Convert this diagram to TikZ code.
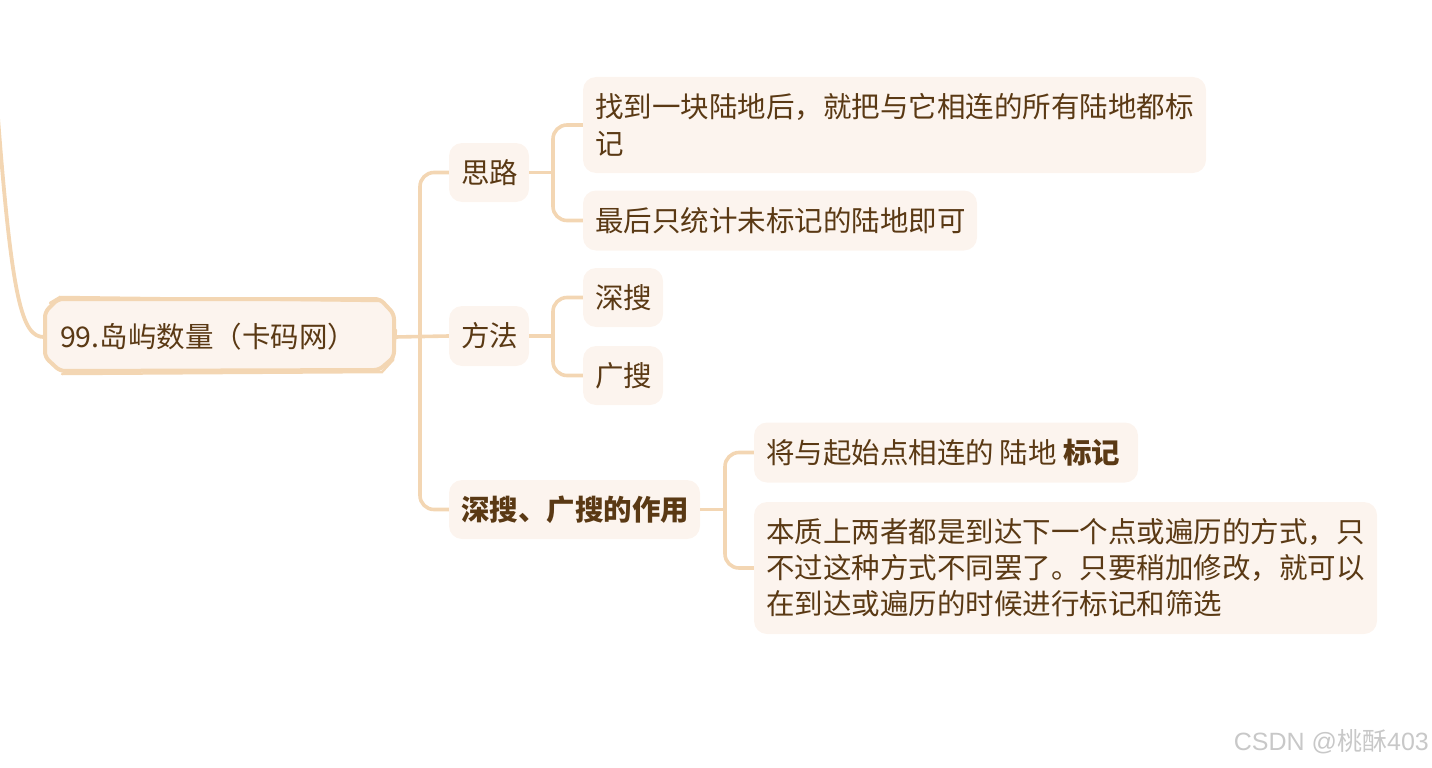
\documentclass[tikz,border=0pt]{standalone}
\usepackage{fontspec}
\setmainfont{Noto Sans CJK SC}
\newfontfamily\wmlatin{Liberation Sans}
\definecolor{linec}{HTML}{F3D6B3}
\definecolor{fillc}{HTML}{FCF4EE}
\definecolor{textc}{HTML}{5A3914}
\definecolor{wmc}{HTML}{C8C8C8}
\begin{document}
\begin{tikzpicture}[x=1pt,y=-1pt,
  conn/.style={draw=linec,line width=3.6pt,rounded corners=14pt},
  leaf/.style={fill=fillc,rounded corners=13pt,inner xsep=12pt,inner ysep=0pt,
     text=textc,align=left,font=\fontsize{28.5}{36}\selectfont},
  rootnode/.style={inner xsep=16pt,inner ysep=0pt,text=textc,align=left,
     font=\fontsize{28.5}{36}\selectfont,minimum width=351pt,minimum height=74pt,text width=319pt},
  handline/.style={draw=linec,line width=4pt,line join=round,rounded corners=5pt}
]
\useasboundingbox (0,0) rectangle (1432,768);
% root hand-drawn frame
\fill[fillc] (58,299) -- (380,299) -- (394,314) -- (394,357) -- (379,371) -- (60,371) -- (45,357) -- (45,312) -- cycle;
\draw[handline] (58,299) -- (380,299) -- (394,314) -- (394,357) -- (379,370) -- (60,371) -- (45,357) -- (45,312) -- cycle;
\draw[draw=linec,line width=2.5pt,line cap=round] (50,303) -- (60,297) -- (381,301);
\draw[draw=linec,line width=2.5pt,line cap=round] (396,330) -- (393,360) -- (382,372) -- (62,374);
\node[rootnode] (root) at (219.5,337) {99.岛屿数量（卡码网）};
\coordinate (top) at (-2,118);
\draw[draw=linec,line width=3.8pt] (top) .. controls (12,300) and (22,337) .. (root.west);
% level 1
\node[leaf,text width=56pt,minimum height=59pt] (sl) at (489,172.5) {思路};
\node[leaf,text width=56pt,minimum height=60pt] (fa) at (489,336) {方法};
\node[leaf,text width=227pt,minimum height=59pt,font=\fontsize{28.5}{36}\selectfont\bfseries] (zy) at (574.5,509.5) {深搜、广搜的作用};
\coordinate (j0) at (420,336);
\draw[conn] (root.east) -- (fa.west);
\draw[conn] (sl.west) -| (j0) |- (zy.west);
% level 2
\node[leaf,text width=599pt,minimum height=96pt,font=\fontsize{28.5}{37}\selectfont] (b1) at (894.5,125) {找到一块陆地后，就把与它相连的所有陆地都标\\记};
\node[leaf,text width=370pt,minimum height=60pt] (b2) at (780,220.5) {最后只统计未标记的陆地即可};
\node[leaf,text width=56pt,minimum height=59pt] (shen) at (623,297.5) {深搜};
\node[leaf,text width=56pt,minimum height=59pt] (guang) at (623,375.5) {广搜};
\node[leaf,text width=360pt,minimum height=60pt] (c1) at (946,452.5) {将与起始点相连的\hspace{6pt}陆地\hspace{6pt}\textbf{标记}};
\node[leaf,text width=599pt,minimum height=132pt] (c2) at (1065.5,568) {本质上两者都是到达下一个点或遍历的方式，只\\不过这种方式不同罢了。只要稍加修改，就可以\\在到达或遍历的时候进行标记和筛选};
\coordinate (j1) at (553,172.5);
\coordinate (j2) at (553,336);
\coordinate (j3) at (725,509.5);
\draw[conn] (sl.east) -- (j1);
\draw[conn] (b1.west) -| (j1) |- (b2.west);
\draw[conn] (fa.east) -- (j2);
\draw[conn] (shen.west) -| (j2) |- (guang.west);
\draw[conn] (zy.east) -- (j3);
\draw[conn] (c1.west) -| (j3) |- (c2.west);
% watermark
\node[anchor=east,text=wmc,inner sep=0pt,font=\fontsize{25}{28}\selectfont] (wm) at (1429,742) {{\wmlatin CSDN @}桃酥{\wmlatin 403}};
\end{tikzpicture}
\end{document}
